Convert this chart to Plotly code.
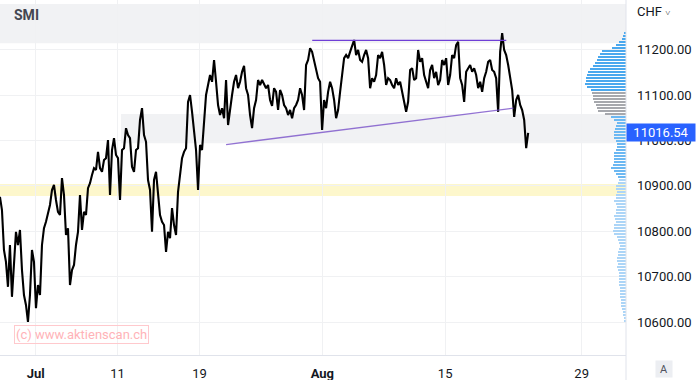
import plotly.graph_objects as go

# ---------------- data ----------------
# SMI intraday closes (sampled), time in trading days where 0 = 1 Jul
t_start = -2.62
t_step = 0.1466
prices = [
    10876, 10847, 10759, 10733, 10678, 10770, 10656, 10726, 10799, 10770,
    10803, 10715, 10660, 10638, 10601, 10660, 10759, 10733, 10631, 10682,
    10660, 10770, 10807, 10821, 10843, 10858, 10891, 10902, 10869, 10843,
    10836, 10917, 10880, 10792, 10807, 10682, 10715, 10726, 10770, 10799,
    10880, 10803, 10843, 10836, 10895, 10906, 10924, 10939, 10935, 10975,
    10939, 10931, 10957, 10961, 11001, 10880, 10979, 11005, 10968, 10961,
    10869, 10979, 10983, 11027, 11012, 11005, 10942, 10931, 10979, 10983,
    11045, 11071, 11012, 10997, 10913, 10891, 10799, 10913, 10931, 10891,
    10836, 10821, 10814, 10755, 10799, 10785, 10851, 10814, 10792, 10887,
    10924, 10961, 10975, 10983, 11085, 11100, 11063, 11027, 10979, 10891,
    10990, 10979, 11049, 11100, 11122, 11144, 11129, 11177, 11129, 11078,
    11056, 11071, 11049, 11133, 11034, 11071, 11100, 11129, 11144, 11115,
    11129, 11151, 11164, 11115, 11100, 11056, 11027, 11071, 11089, 11133,
    11122, 11133, 11122, 11115, 11122, 11089, 11076, 11115, 11107, 11067,
    11111, 11100, 11078, 11071, 11056, 11067, 11049, 11071, 11078, 11089,
    11115, 11100, 11067, 11166, 11177, 11203, 11195, 11177, 11159, 11137,
    11129, 11023, 11089, 11071, 11107, 11129, 11115, 11089, 11049, 11067,
    11107, 11151, 11181, 11188, 11181, 11195, 11210, 11221, 11188, 11199,
    11177, 11173, 11188, 11199, 11181, 11115, 11137, 11129, 11144, 11188,
    11181, 11195, 11166, 11122, 11137, 11133, 11122, 11115, 11137, 11122,
    11129, 11107, 11089, 11063, 11085, 11155, 11159, 11133, 11137, 11199,
    11173, 11181, 11144, 11129, 11115, 11155, 11166, 11137, 11151, 11122,
    11133, 11177, 11166, 11181, 11122, 11144, 11188, 11181, 11210, 11217,
    11137, 11122, 11085, 11151, 11159, 11166, 11151, 11159, 11144, 11115,
    11129, 11107, 11137, 11151, 11173, 11177, 11155, 11151, 11137, 11063,
    11195, 11236, 11199, 11188, 11166, 11137, 11111, 11052, 11089, 11100,
    11078, 11067, 11045, 10983, 11016.54,
]
last_price = 11016.54

# visible-range volume profile (bottom bin upwards)
profile_low = 10603
profile_step = 6.6
profile_vol = [
    2, 3, 4, 5, 6, 8, 8, 8, 9, 9, 10, 9, 11, 11, 11, 11, 11, 13, 14, 13,
    14, 14, 13, 12, 11, 10, 11, 13, 14, 19, 20, 19, 18, 16, 17, 18, 16, 16,
    14, 16, 18, 16, 16, 14, 16, 16, 13, 11, 13, 16, 19, 23, 21, 19, 18, 18,
    18, 16, 14, 14, 16, 18, 19, 18, 17, 16, 14, 18, 24, 33, 43, 45, 47, 50,
    52, 51, 53, 54, 61, 64, 63, 62, 61, 59, 56, 51, 49, 46, 44, 40, 37, 22,
    15, 11, 6, 4, 3,
]

# zones and trend lines
zone_top = (11214, 11300)
zone_mid = (10994, 11058)
zone_mid_start = 6.25
zone_yellow = (10878, 10904)
resist_t = [20.26, 34.48]
resist_p = [11220, 11220]
support_t = [13.95, 35.0]
support_p = [10991, 11071]

tick_days = [0, 6, 12, 21, 30, 40]
tick_text = ["<b>Jul</b>", "11", "19", "<b>Aug</b>", "15", "29"]
y_ticks = [10600, 10700, 10800, 10900, 11000, 11100, 11200]

x_range = [-2.617, 43.25]
y_range = [10528, 11309]

# ---------------- figure ----------------
times = [t_start + i * t_step for i in range(len(prices))]
levels = [profile_low + i * profile_step for i in range(len(profile_vol))]

fig = go.Figure()

cols = []
for lv in levels:
    if lv >= 11105:
        cols.append("#4aa8ee")
    elif lv >= 11055:
        cols.append("#a6a8ad")
    elif lv >= 10915:
        cols.append("#6cb8f2")
    else:
        cols.append("#acd5f7")

fig.add_trace(go.Bar(
    y=levels, x=profile_vol, orientation="h", xaxis="x2", yaxis="y",
    marker=dict(color=cols, line=dict(width=0)), width=2.3,
    hoverinfo="skip", showlegend=False,
))

fig.add_trace(go.Scatter(
    x=times, y=prices, mode="lines",
    line=dict(color="#000000", width=2.1),
    hoverinfo="skip", showlegend=False,
))

fig.add_trace(go.Scatter(
    x=resist_t, y=resist_p, mode="lines",
    line=dict(color="#6f3fd6", width=1.3), showlegend=False, hoverinfo="skip",
))
fig.add_trace(go.Scatter(
    x=support_t, y=support_p, mode="lines",
    line=dict(color="rgba(120,80,200,0.8)", width=1.3), showlegend=False, hoverinfo="skip",
))

shapes = [
    dict(type="rect", xref="paper", yref="y", x0=0, x1=1, y0=zone_top[0], y1=zone_top[1],
         fillcolor="#f1f2f4", line=dict(width=0), layer="below"),
    dict(type="rect", xref="x", yref="y", x0=zone_mid_start, x1=x_range[1], y0=zone_mid[0], y1=zone_mid[1],
         fillcolor="#f1f2f4", line=dict(width=0), layer="below"),
    dict(type="rect", xref="paper", yref="y", x0=0, x1=1, y0=zone_yellow[0], y1=zone_yellow[1],
         fillcolor="#fdf7cc", line=dict(width=0), layer="below"),
    dict(type="line", xref="paper", yref="paper", x0=1, x1=1, y0=-25 / 355, y1=1,
         line=dict(color="#e0e3eb", width=1)),
]

annotations = [
    dict(text="<b>SMI</b>", xref="paper", yref="paper", x=12 / 626, y=(355 - 15) / 355,
         xanchor="left", yanchor="middle", showarrow=False,
         font=dict(family="Roboto", size=14, color="#434651")),
    dict(text="CHF <span style='font-size:9px'>˅</span>", xref="paper", yref="paper",
         x=635 / 626, y=(355 - 12) / 355, xanchor="left", yanchor="middle", showarrow=False,
         font=dict(family="Roboto", size=13, color="#131722")),
    dict(text="(c) www.aktienscan.ch", xref="paper", yref="paper", x=81.5 / 626,
         y=(355 - 334.5) / 355, xanchor="center", yanchor="middle", showarrow=False,
         font=dict(family="Roboto", size=13, color="#ffb3b8"),
         bordercolor="#ffc9cd", borderwidth=1, borderpad=1),
    dict(text=f"{last_price:.2f}", xref="paper", yref="y", x=1, y=last_price,
         xanchor="left", yanchor="middle", showarrow=False, width=66, height=15,
         bgcolor="#2962ff", borderpad=1, align="center",
         font=dict(family="Roboto", size=13, color="#ffffff")),
    dict(text="A", xref="paper", yref="paper", x=664 / 626, y=(355 - 369) / 355,
         xanchor="center", yanchor="middle", showarrow=False, width=14, height=14,
         bgcolor="#eceef2", borderpad=1,
         font=dict(family="Roboto", size=11, color="#50535e")),
]

fig.update_layout(
    width=698, height=380,
    margin=dict(l=0, r=72, t=0, b=25),
    paper_bgcolor="#ffffff", plot_bgcolor="#ffffff",
    showlegend=False,
    shapes=shapes, annotations=annotations,
    bargap=0,
    xaxis=dict(
        range=x_range, tickvals=tick_days, ticktext=tick_text,
        showgrid=True, gridcolor="#f0f1f3", gridwidth=1,
        zeroline=False, showline=True, linecolor="#e0e3eb", linewidth=1,
        ticks="", ticklabelstandoff=6,
        tickfont=dict(family="Roboto", size=13, color="#131722"),
        fixedrange=True,
    ),
    xaxis2=dict(
        overlaying="x", range=[978, 0], visible=False, fixedrange=True,
    ),
    yaxis=dict(
        range=y_range, side="right", tickvals=y_ticks,
        ticktext=[f"{v:.2f}" for v in y_ticks],
        showgrid=True, gridcolor="#f0f1f3", gridwidth=1,
        zeroline=False, showline=False, ticks="", ticklabelstandoff=10,
        tickfont=dict(family="Roboto", size=13, color="#131722"),
        fixedrange=True,
    ),
)

fig.write_html(
    "out.html",
    config={"displayModeBar": False},
    post_script="document.body.style.margin='0';document.body.style.padding='0';",
)
